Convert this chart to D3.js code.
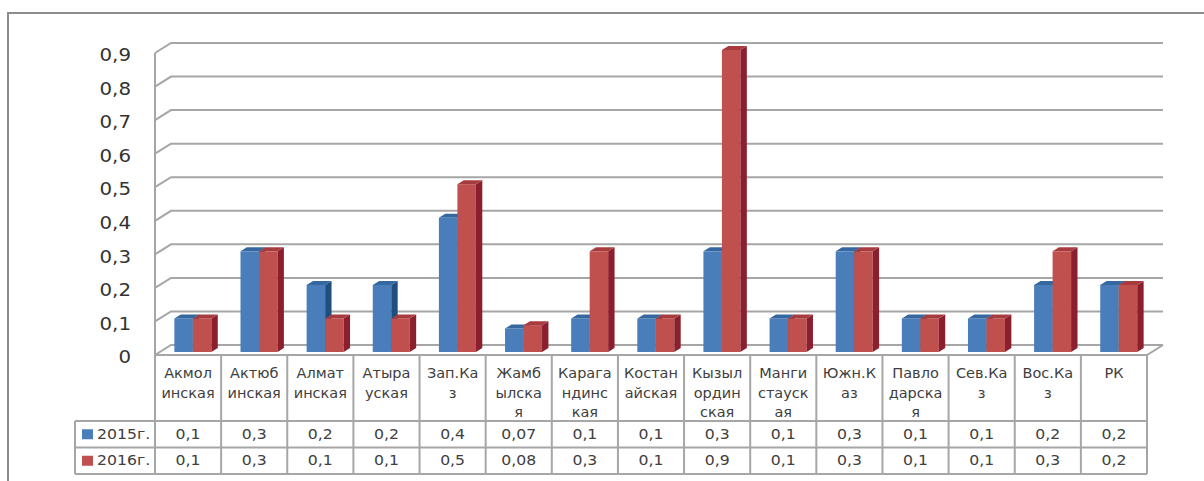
<!DOCTYPE html>
<html>
<head>
<meta charset="utf-8">
<script src="https://cdn.jsdelivr.net/npm/d3@7"></script>
<style>
  body { margin: 0; background: #fff; }
  svg { display: block; }
  text { font-family: "DejaVu Sans", Verdana, sans-serif; fill: #404040; }
</style>
</head>
<body>
<svg id="chart" width="1204" height="481"></svg>
<script>
// Regions (label lines as they wrap in the data table)
const categoryLines = [
  ["Акмол", "инская"],
  ["Актюб", "инская"],
  ["Алмат", "инская"],
  ["Атыра", "уская"],
  ["Зап.Ка", "з"],
  ["Жамб", "ылска", "я"],
  ["Карага", "ндинс", "кая"],
  ["Костан", "айская"],
  ["Кызыл", "ордин", "ская"],
  ["Манги", "стауск", "ая"],
  ["Южн.К", "аз"],
  ["Павло", "дарска", "я"],
  ["Сев.Ка", "з"],
  ["Вос.Ка", "з"],
  ["РК"]
];
const seriesNames = ["2015г.", "2016г."];
const values2015 = [0.1, 0.3, 0.2, 0.2, 0.4, 0.07, 0.1, 0.1, 0.3, 0.1, 0.3, 0.1, 0.1, 0.2, 0.2];
const values2016 = [0.1, 0.3, 0.1, 0.1, 0.5, 0.08, 0.3, 0.1, 0.9, 0.1, 0.3, 0.1, 0.1, 0.3, 0.2];
const yTicks = [0, 0.1, 0.2, 0.3, 0.4, 0.5, 0.6, 0.7, 0.8, 0.9];

const series = [values2015, values2016];
const palette = [
  { front: "#4A7EBB", side: "#1F4F7E", top: "#3568A0" },
  { front: "#C0504D", side: "#8C1F2D", top: "#A83B3E" }
];

const svg = d3.select("#chart");
const fmt = v => String(v).replace(".", ",");

// plot geometry: front plane of the 3D box, plus depth offset
const left = 155, right = 1147, floorY = 355, topY = 53;
const DX = 16, DY = -10;             // full depth of the box
const tFront = 0.3, tBack = 0.7;     // bar placement in depth
const n = categoryLines.length;

const x = d3.scaleBand().domain(d3.range(n)).range([left, right]);
const y = d3.scaleLinear().domain([0, 0.9]).range([floorY, topY]);
const groupW = 37;
const sub = d3.scaleBand().domain([0, 1]).range([0, groupW]);

const gridColor = "#A6A6A6";

// outer frame
svg.append("path")
  .attr("d", "M8,481 L8,13 L1204,13")
  .attr("fill", "none").attr("stroke", "#8C8C8C").attr("stroke-width", 2);

// back-wall gridlines with the diagonal step from the front axis
const grid = svg.append("g");
grid.selectAll("path.grid").data(yTicks).join("path")
  .attr("class", "grid")
  .attr("d", v => `M${left},${y(v)} L${left + DX},${y(v) + DY} L${right + DX},${y(v) + DY}`)
  .attr("fill", "none").attr("stroke", gridColor).attr("stroke-width", 2);

// left wall edge and floor outline
grid.append("path")
  .attr("d", `M${left},${y(0.9)} L${left},${floorY}`)
  .attr("stroke", gridColor).attr("stroke-width", 2);
grid.append("path")
  .attr("d", `M${left},${floorY} L${right},${floorY} L${right + DX},${floorY + DY}`)
  .attr("fill", "none").attr("stroke", gridColor).attr("stroke-width", 2);

// y axis labels
const yAxis = d3.axisLeft(y).tickValues(yTicks).tickFormat(fmt).tickSize(0).tickPadding(0);
const axisG = svg.append("g").attr("transform", "translate(131,2)").call(yAxis);
axisG.select(".domain").remove();
axisG.selectAll("text")
  .attr("x", 0)
  .attr("transform", "scale(1.1,1)")
  .style("font-family", "'DejaVu Sans', Verdana, sans-serif")
  .style("font-size", "18px")
  .style("fill", "#333");

// 3D bars
const bars = svg.append("g");
d3.range(n).forEach(i => {
  series.forEach((vals, s) => {
    const v = vals[i];
    const c = palette[s];
    const x0 = x(i) + (x.bandwidth() - groupW) / 2 + sub(s) + tFront * DX;
    const w = sub.bandwidth();
    const top = y(v) + tFront * DY;
    const bottom = y(0) + tFront * DY;
    const dx = (tBack - tFront) * DX, dy = (tBack - tFront) * DY;
    const g = bars.append("g");
    g.append("rect").attr("x", x0).attr("y", top).attr("width", w).attr("height", bottom - top)
      .attr("fill", c.front);
    g.append("path")
      .attr("d", `M${x0 + w},${top} L${x0 + w + dx},${top + dy} L${x0 + w + dx},${bottom + dy} L${x0 + w},${bottom} Z`)
      .attr("fill", c.side);
    g.append("path")
      .attr("d", `M${x0},${top} L${x0 + dx},${top + dy} L${x0 + w + dx},${top + dy} L${x0 + w},${top} Z`)
      .attr("fill", c.top);
  });
});

// data table below the plot
const headerBottom = 421, rowH = 26.5;
const rowTops = [headerBottom, headerBottom + rowH];
const tableBottom = headerBottom + 2 * rowH;
const legendLeft = 75;
const table = svg.append("g");

table.selectAll("line.col").data(d3.range(n + 1)).join("line")
  .attr("x1", i => i < n ? x(i) : right).attr("x2", i => i < n ? x(i) : right)
  .attr("y1", floorY).attr("y2", tableBottom)
  .attr("stroke", gridColor).attr("stroke-width", 2);
table.selectAll("line.row").data([headerBottom, headerBottom + rowH, tableBottom]).join("line")
  .attr("x1", legendLeft).attr("x2", right)
  .attr("y1", d => d).attr("y2", d => d)
  .attr("stroke", gridColor).attr("stroke-width", 2);
table.append("line")
  .attr("x1", legendLeft).attr("x2", legendLeft)
  .attr("y1", headerBottom).attr("y2", tableBottom)
  .attr("stroke", gridColor).attr("stroke-width", 2);

// category header text
const cat = table.selectAll("g.cat").data(categoryLines).join("g")
  .attr("transform", (d, i) => `translate(${x(i) + x.bandwidth() / 2},${floorY + 18})`);
cat.selectAll("text").data(d => d).join("text")
  .attr("y", (d, k) => k * 19.5)
  .attr("text-anchor", "middle")
  .attr("dominant-baseline", "central")
  .style("font-size", "14.5px")
  .text(d => d);

// value rows and legend keys
series.forEach((vals, s) => {
  const cy = rowTops[s] + rowH / 2;
  table.append("rect")
    .attr("x", 82).attr("y", cy - 5).attr("width", 11).attr("height", 10)
    .attr("fill", palette[s].front);
  table.append("text")
    .attr("transform", `translate(97,${cy}) scale(1.12,1)`)
    .attr("dominant-baseline", "central")
    .style("font-size", "14px")
    .text(seriesNames[s]);
  table.selectAll(null).data(vals).join("text")
    .attr("transform", (v, i) => `translate(${x(i) + x.bandwidth() / 2},${cy}) scale(1.12,1)`)
    .attr("text-anchor", "middle")
    .attr("dominant-baseline", "central")
    .style("font-size", "14px")
    .text(fmt);
});
</script>
</body>
</html>
